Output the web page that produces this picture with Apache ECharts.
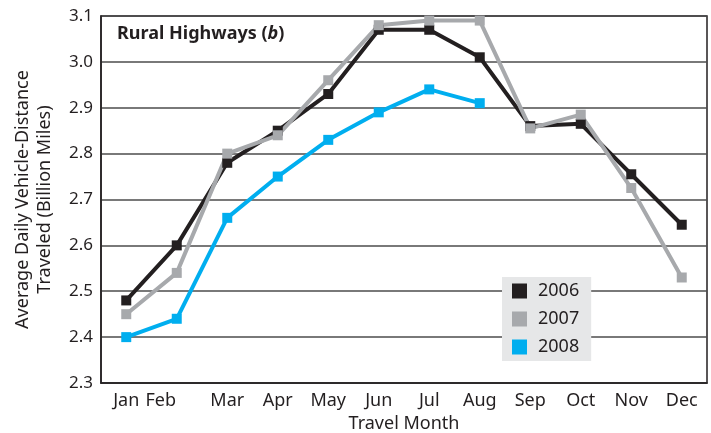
<!DOCTYPE html>
<html>
<head>
<meta charset="utf-8">
<script src="https://cdn.jsdelivr.net/npm/echarts@6/dist/echarts.min.js"></script>
<style>
  html, body { margin: 0; padding: 0; background: #fff; }
  #main { width: 711px; height: 433px; }
</style>
</head>
<body>
<div id="main"></div>
<script>
var months = ['Jan', 'Feb', 'Mar', 'Apr', 'May', 'Jun', 'Jul', 'Aug', 'Sep', 'Oct', 'Nov', 'Dec'];
var y2006 = [2.48, 2.60, 2.78, 2.85, 2.93, 3.07, 3.07, 3.01, 2.86, 2.865, 2.755, 2.645];
var y2007 = [2.45, 2.54, 2.80, 2.84, 2.96, 3.08, 3.09, 3.09, 2.855, 2.885, 2.725, 2.53];
var y2008 = [2.40, 2.44, 2.66, 2.75, 2.83, 2.89, 2.94, 2.91, null, null, null, null];

var FONT = 'Noto Sans';
var INK = '#231f20';

var chartDom = document.getElementById('main');
var myChart = echarts.init(chartDom);
var option;

function lineSeries(name, data, color) {
  return {
    name: name,
    type: 'line',
    data: data,
    color: color,
    symbol: 'rect',
    symbolSize: 10,
    showAllSymbol: true,
    lineStyle: { width: 4, color: color },
    itemStyle: { color: color },
    emphasis: { disabled: true }
  };
}

option = {
  animation: false,
  textStyle: { fontFamily: FONT },
  title: {
    left: 112,
    top: 20,
    text: '{b|Rural Highways (}{bi|b}{b|)}',
    textStyle: {
      rich: {
        b: { fontFamily: FONT, fontSize: 18, fontWeight: 'bold', color: INK },
        bi: { fontFamily: FONT, fontSize: 18, fontWeight: 'bold', fontStyle: 'italic', color: INK }
      }
    }
  },
  grid: {
    left: 101,
    right: 4,
    top: 16,
    bottom: 50,
    outerBoundsMode: 'none',
    containLabel: false,
    show: true,
    borderColor: INK,
    borderWidth: 1.5
  },
  legend: {
    orient: 'vertical',
    left: 502,
    top: 277,
    padding: [5, 12, 5, 10],
    itemGap: 10,
    itemWidth: 15,
    itemHeight: 15,
    icon: 'rect',
    backgroundColor: '#e6e7e8',
    textStyle: { fontFamily: FONT, fontSize: 18, color: INK, lineHeight: 15, padding: [0, 0, 0, 6] },
    data: ['2006', '2007', '2008']
  },
  xAxis: {
    type: 'category',
    data: months,
    boundaryGap: true,
    name: 'Travel Month',
    nameLocation: 'middle',
    nameGap: 31,
    nameTextStyle: { fontFamily: FONT, fontSize: 18, color: INK },
    axisLine: { lineStyle: { color: INK, width: 1.5 } },
    axisTick: { show: false },
    axisLabel: {
      fontFamily: FONT,
      fontSize: 18,
      color: INK,
      margin: 9,
      interval: 0,
      formatter: function (v) { return v === 'Feb' ? '{feb|Feb}' : v; },
      rich: { feb: { fontFamily: FONT, fontSize: 18, color: INK, padding: [0, 32, 0, 0] } }
    }
  },
  yAxis: {
    type: 'value',
    min: 2.3,
    max: 3.1,
    interval: 0.1,
    name: 'Average Daily Vehicle-Distance\nTraveled (Billion Miles)',
    nameLocation: 'middle',
    nameRotate: 90,
    nameGap: 45,
    nameTextStyle: { fontFamily: FONT, fontSize: 18, color: INK, lineHeight: 22 },
    axisLine: { show: true, lineStyle: { color: INK, width: 1.5 } },
    axisTick: { show: false },
    axisLabel: {
      fontFamily: FONT,
      fontSize: 17,
      color: INK,
      margin: 8,
      formatter: function (v) { return v.toFixed(1); }
    },
    splitLine: { lineStyle: { color: '#4d4d4d', width: 1.5 } }
  },
  series: [
    lineSeries('2006', y2006, '#231f20'),
    lineSeries('2007', y2007, '#a7a9ac'),
    lineSeries('2008', y2008, '#00aeef')
  ]
};

option && myChart.setOption(option);
</script>
</body>
</html>
